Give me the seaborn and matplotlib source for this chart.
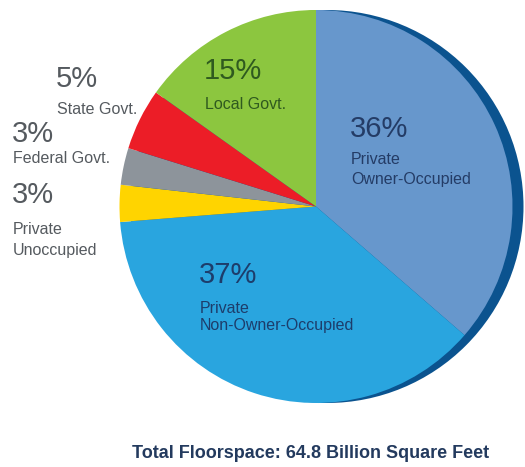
import matplotlib
matplotlib.use("Agg")
import matplotlib.pyplot as plt
from matplotlib.patches import Circle
import seaborn as sns

# Share of commercial floorspace by ownership (clockwise from 12 o'clock)
categories = ["Private Owner-Occupied", "Private Non-Owner-Occupied",
              "Private Unoccupied", "Federal Govt.", "State Govt.", "Local Govt."]
shares = [36, 37, 3, 3, 5, 15]
slice_colors = ["#6797cc", "#29a5df", "#ffd400", "#8d949b", "#ec1d27", "#8cc63f"]

pct_labels = ["36%", "37%", "3%", "3%", "5%", "15%"]
desc_labels = [["Private", "Owner-Occupied"], ["Private", "Non-Owner-Occupied"],
               ["Private", "Unoccupied"], ["Federal Govt."], ["State Govt."], ["Local Govt."]]
title_text = "Total Floorspace: 64.8 Billion Square Feet"

W, H = 525, 467
sns.set_theme(style="white")
plt.rcParams["font.family"] = ["Liberation Sans", "DejaVu Sans"]

fig = plt.figure(figsize=(W / 100, H / 100), dpi=100)
ax = fig.add_axes([0, 0, 1, 1])

cx, cy, r = 316, H - 206.5, 196.5

# dark rim behind the disc
ax.add_patch(Circle((cx + 11, cy), r, facecolor="#0b538f", edgecolor="none", zorder=0))

ax.pie(shares, colors=slice_colors, startangle=90, counterclock=False,
       center=(cx, cy), radius=r, wedgeprops=dict(linewidth=0), frame=False)

ax.set_xlim(0, W)
ax.set_ylim(0, H)
ax.set_aspect("equal")
ax.axis("off")

# label placement in pixels from the top-left: percent top, then description line tops
pct_pos = [(350, 115), (199, 261), (12, 181), (12, 120), (56, 65), (204, 57)]
desc_tops = [[152, 172], [301, 318], [222, 243], [151], [102], [97]]
text_cols = ["#243c66", "#1d3d6b", "#555a5f", "#555a5f", "#555a5f", "#2f5a1f"]

for p, lines, (x, y), tops, col in zip(pct_labels, desc_labels, pct_pos, desc_tops, text_cols):
    ax.text(x, H - y, p, ha="left", va="top", fontsize=21, color=col)
    for line, t in zip(lines, tops):
        ax.text(x + 1, H - t, line, ha="left", va="top", fontsize=11.5, color=col)

ax.text(311, H - 453, title_text, ha="center", va="center", fontsize=13,
        fontweight="bold", color="#233a5e")

fig.savefig("out.png", dpi=100)
